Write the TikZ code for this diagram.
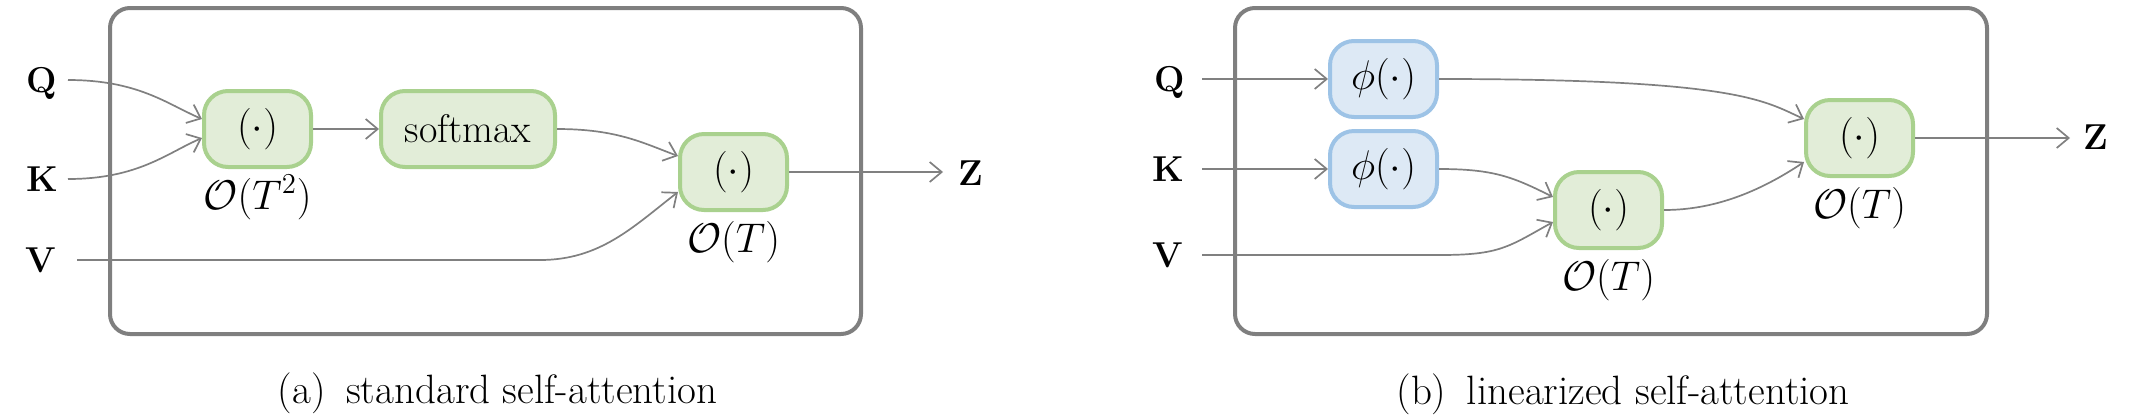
\documentclass[tikz,border=0pt]{standalone}
\usepackage{fontspec}
\usetikzlibrary{arrows.meta}
\definecolor{gfill}{HTML}{E2EDD8}
\definecolor{gline}{HTML}{A9D18E}
\definecolor{bfill}{HTML}{DDE9F5}
\definecolor{bline}{HTML}{9DC3E6}
\definecolor{boxgray}{HTML}{7F7F7F}
\definecolor{arrgray}{HTML}{808080}
\begin{document}
\begin{tikzpicture}[x=0.5pt,y=-0.5pt,
  panel/.style={draw=boxgray,line width=2pt,rounded corners=10pt},
  op/.style={draw=gline,fill=gfill,line width=2pt,rounded corners=12pt,
    minimum width=53.5pt,minimum height=38pt,inner sep=0pt,
    font=\fontsize{20}{24}\selectfont},
  phinode/.style={op,draw=bline,fill=bfill},
  conn/.style={draw=arrgray,line width=0.85pt,-{Straight Barb[length=6pt,width=10pt]}},
  lbl/.style={inner sep=0pt,font=\fontsize{18}{20}\selectfont\bfseries,
    text height=12.3pt,text depth=0pt},
  cplx/.style={inner sep=0pt,anchor=base,font=\fontsize{20}{24}\selectfont},
  captext/.style={inner sep=0pt,anchor=base,font=\fontsize{20.5}{24}\selectfont}
]
\useasboundingbox (0,0) rectangle (2132,414);

% ---------- (a) standard self-attention ----------
\draw[panel] (110,8) rectangle (861,334);
\node[op] (n1) at (257.5,129) {$(\cdot)$};
\node[op,minimum width=87pt] (sm) at (468,129) {softmax};
\node[op] (n3) at (733.5,172) {$(\cdot)$};
\node[cplx] (c1) at ([yshift=-20pt]n1.south) {$\mathcal{O}(T^2)$};
\node[cplx] (c3) at ([yshift=-20pt]n3.south) {$\mathcal{O}(T)$};

\node[lbl] (Q) at (42,80) {Q};
\node[lbl] (K) at (42,179) {K};
\node[lbl] (V) at (41,260) {V};
\node[lbl] (Z) at (971,173) {Z};
\coordinate (Qs) at (68,80);
\coordinate (Ks) at (68,179);
\coordinate (Vs) at (77,260);
\coordinate (Vb) at (540,260);
\coordinate (Ze) at (943,172);

\draw[conn] (Qs) .. controls +(70,0) and +(-35,-15) .. ([yshift=5pt]n1.west);
\draw[conn] (Ks) .. controls +(70,0) and +(-35,15) .. ([yshift=-4.5pt]n1.west);
\draw[conn] (n1) -- (sm);
\draw[conn] (sm.east) .. controls +(60,0) and +(-35,-13) .. ([yshift=8pt]n3.west);
\draw[conn] (Vs) -- (Vb) .. controls +(60,0) and +(-45,35) .. ([yshift=-10pt]n3.west);
\draw[conn] (n3.east) -- (Ze);

\node[captext] (capa) at (497.5,403) {(a)\enspace standard self-attention};

% ---------- (b) linearized self-attention ----------
\draw[panel] (1235,8) rectangle (1987,334);
\node[phinode] (p1) at (1383.5,79) {$\phi(\cdot)$};
\node[phinode] (p2) at (1383.5,169) {$\phi(\cdot)$};
\node[op] (m) at (1608.5,210) {$(\cdot)$};
\node[op] (r) at (1859.5,138) {$(\cdot)$};
\node[cplx] (cm) at ([yshift=-20pt]m.south) {$\mathcal{O}(T)$};
\node[cplx] (cr) at ([yshift=-20pt]r.south) {$\mathcal{O}(T)$};

\node[lbl] (Q2) at (1170,79) {Q};
\node[lbl] (K2) at (1168,169) {K};
\node[lbl] (V2) at (1168,255) {V};
\node[lbl] (Z2) at (2096,137) {Z};
\coordinate (Qs2) at (1202,79);
\coordinate (Ks2) at (1202,169);
\coordinate (Vs2) at (1202,255);
\coordinate (Vb2) at (1440,255);
\coordinate (Ze2) at (2070,138);

\draw[conn] (Qs2) -- (p1);
\draw[conn] (Ks2) -- (p2);
\draw[conn] (p1.east) .. controls +(300,0) and +(-40,-18) .. ([yshift=9.5pt]r.west);
\draw[conn] (p2.east) .. controls +(55,0) and +(-40,-20) .. ([yshift=6.5pt]m.west);
\draw[conn] (Vs2) -- (Vb2) .. controls +(60,0) and +(-45,25) .. ([yshift=-6pt]m.west);
\draw[conn] (m.east) .. controls +(50,0) and +(-45,30) .. ([yshift=-12pt]r.west);
\draw[conn] (r.east) -- (Ze2);

\node[captext] (capb) at (1623,404) {(b)\enspace linearized self-attention};
\end{tikzpicture}
\end{document}
